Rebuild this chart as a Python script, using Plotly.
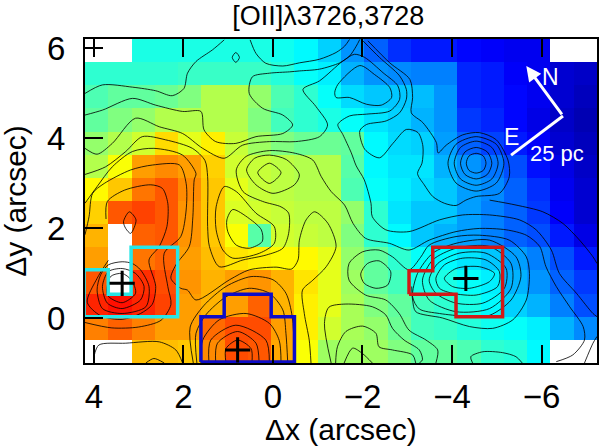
import plotly.graph_objects as go

N = None
row_00 = [N, N, .40, .40, .40, .40, .40, .40, .39, .37, .33, .27, .22, .17, .15, .15, .13, .12, .11, .11, N, N]
row_01 = [.42, .42, .42, .42, .43, .43, .43, .43, .41, .38, .36, .30, .27, .26, .25, .25, .16, .15, .12, .11, .08, .07]
row_02 = [.45, .47, .47, .48, .50, .55, .55, .52, .45, .42, .38, .34, .32, .32, .31, .27, .16, .15, .13, .11, .08, .06]
row_03 = [.47, .50, .52, .55, .55, .55, .55, .50, .44, .42, .40, .38, .35, .33, .30, .27, .18, .16, .13, .10, .07, .05]
row_04 = [.52, .55, .58, .66, .60, .64, .57, .53, .50, .48, .48, .47, .37, .34, .33, .28, .22, .19, .15, .12, .08, .06]
row_05 = [.55, .62, .72, .74, .72, .67, .58, .57, .56, .55, .55, .46, .37, .35, .35, .30, .27, .24, .20, .14, .10, .07]
row_06 = [.63, .68, .76, .79, .74, .68, .60, .57, .56, .55, .55, .45, .38, .36, .34, .32, .28, .26, .22, .17, .11, .08]
row_07 = [.67, .79, .81, .79, .73, .68, .59, .58, .57, .56, .56, .52, .42, .35, .32, .32, .28, .25, .22, .18, .12, .08]
row_08 = [.70, N, .78, .79, .73, .68, .62, .46, .58, .57, .56, .50, .42, .37, .32, .30, .28, .25, .22, .20, .15, .10]
row_09 = [.72, N, .76, .78, .72, .69, .65, .64, .63, .63, .60, .52, .47, .42, .38, .37, .35, .32, .28, .25, .20, .15]
row_10 = [.79, N, .83, .80, .73, .70, .72, .73, .70, .65, .60, .53, .47, .44, .40, .40, .38, .36, .30, .27, .22, .18]
row_11 = [.84, .86, .84, .81, .72, .70, .72, .78, .70, .64, .60, .54, .50, .47, .44, .42, .40, .37, .33, .30, .25, .20]
row_12 = [.75, .78, .75, .72, .72, .77, .80, .80, .72, .64, .58, .54, .52, .48, .44, .43, .41, .39, .38, .36, .30, .26]
row_13 = [N, N, .69, .69, .68, .74, .80, .79, .71, .62, .53, .53, .53, .50, .47, .47, .45, .42, .41, .37, N, N]
flux_rows = [row_00, row_01, row_02, row_03, row_04, row_05, row_06, row_07,
             row_08, row_09, row_10, row_11, row_12, row_13]

# contour lines as (dx, dy) in arcsec
c01 = [(4.2,4.99),(3.81,5.18),(3.14,5.13),(2.62,5.05),(2.25,4.94),(1.99,5.10),(1.91,5.44),(1.72,5.70),(1.35,5.96),(1.09,6.18)]
c02 = [(.91,5.79),(.83,5.9),(.75,5.79),(.83,5.68),(.91,5.79)]
c03 = [(.51,6.18),(.38,5.88),(.16,5.66),(-.22,5.6),(-.59,5.67),(-1.04,5.75),(-1.41,5.9),(-1.6,6.04),(-1.71,6.19)]
c04 = [(4.2,4.51),(3.81,4.62),(3.14,4.88),(2.62,4.73),(2.02,4.59),(1.61,4.59),(1.54,4.18),(1.28,3.92),(.83,3.88),(.38,4.03),(-.22,4.10),(-.44,4.29),(-.22,4.51),(.23,4.66),(.53,4.99),(.46,5.36),(.08,5.44),(-.37,5.47),(-.59,5.49),(-1.04,5.53),(-1.49,5.67),(-1.71,5.82),(-1.86,6.04),(-1.94,6.19)]
c05 = [(4.2,3.77),(3.93,3.64),(3.59,3.88),(3.07,4.44),(2.54,4.25),(2.02,4.10),(1.57,3.77),(1.09,3.55),(.68,3.84),(.08,3.92),(-.51,3.92),(-1.04,4.03),(-1.22,4.29),(-.96,4.70),(-.67,5.08),(-1.04,5.27),(-1.56,5.71),(-1.82,5.86),(-2.05,5.79),(-2.46,5.45),(-2.79,5.16),(-2.83,4.86),(-2.61,4.6),(-2.09,4.53),(-1.71,4.49),(-1.45,4.30),(-1.56,4.08),(-1.75,3.67),(-1.86,3.38),(-2.04,3.07),(-2.19,2.55),(-2.22,2.25),(-2.52,1.96),(-3.04,1.92),(-3.72,2.18),(-4.24,2.29),(-4.84,2.29),(-5.51,2.18),(-5.88,1.96),(-6.22,1.51),(-6.40,.99),(-6.78,.55),(-7.15,.10),(-7.24,.03)]
c06 = [(-1.38,5.01),(-1.45,5.19),(-1.94,5.61),(-2.27,5.41),(-2.61,5.12),(-2.65,4.90),(-2.42,4.73),(-2.09,4.75),(-1.71,4.90),(-1.41,4.90),(-1.38,5.01)]
c07 = [(-2.01,6.16),(-2.38,5.79),(-2.83,5.38),(-2.98,5.08),(-2.98,4.86),(-2.83,4.56),(-2.53,4.38),(-2.09,4.30),(-1.94,4.16),(-2.05,3.75),(-2.38,3.56),(-2.68,3.88),(-2.98,4.19),(-3.24,4.12),(-3.35,3.82),(-3.33,3.44),(-3.23,3.21),(-3.38,2.96),(-3.57,2.70),(-3.83,2.55),(-4.09,2.50),(-4.31,2.62),(-4.54,2.70),(-5.06,2.77),(-5.28,3.14),(-5.25,3.51),(-4.99,3.96),(-4.61,4.12),(-4.24,4.07),(-3.87,3.84),(-3.69,3.67),(-3.65,3.90),(-3.35,4.34),(-3.09,4.56),(-3.12,4.9),(-3.06,5.30),(-2.61,5.67),(-2.12,6.16)]
c08 = [(-4.32,3.44),(-4.38,3.6),(-4.54,3.66),(-4.7,3.6),(-4.76,3.44),(-4.7,3.28),(-4.54,3.22),(-4.38,3.28),(-4.32,3.44)]
c09 = [(-4.19,3.44),(-4.29,3.69),(-4.54,3.79),(-4.79,3.69),(-4.89,3.44),(-4.79,3.19),(-4.54,3.09),(-4.29,3.19),(-4.19,3.44)]
c10 = [(-4.05,3.44),(-4.19,3.79),(-4.54,3.93),(-4.89,3.79),(-5.03,3.44),(-4.89,3.09),(-4.54,2.95),(-4.19,3.09),(-4.05,3.44)]
c11 = [(-3.91,3.44),(-4.09,3.86),(-4.54,4.03),(-4.99,3.86),(-5.16,3.44),(-4.99,3.0),(-4.54,2.82),(-4.09,3.0),(-3.91,3.44)]
c12 = [(-4.84,2.62),(-5.43,2.51),(-6.03,2.36),(-6.48,2.10),(-6.85,1.73),(-7.15,1.36),(-7.24,1.21)]
c13 = [(4.2,3.19),(3.74,3.36),(3.29,3.70),(2.92,4.03),(2.40,3.96),(1.80,3.77),(1.52,3.5),(1.46,3.14),(1.46,2.03),(1.42,1.59),(1.2,1.14),(.67,1.29),(.15,1.40),(-.22,1.55),(-.35,1.88),(-.35,2.33),(-.18,2.47),(.23,2.59),(.67,2.81),(.82,3.29),(.6,3.59),(.08,3.72),(-.5,3.66),(-.89,3.51),(-1.08,3.14),(-1.30,2.81),(-1.6,2.51),(-1.79,2.10),(-2.07,1.77),(-2.6,1.66),(-3.04,1.51),(-3.49,1.73),(-4.09,1.92),(-4.61,1.99),(-5.21,1.96),(-5.66,1.84),(-5.96,1.59),(-6.1,1.14),(-6.33,.70),(-6.63,.25),(-6.93,-.19),(-6.96,-.49),(-6.70,-.82),(-6.33,-.97)]
c14 = [(1.27,2.47),(1.09,2.92),(.82,2.81),(.38,2.33),(-.03,2.03),(-.03,1.66),(.3,1.44),(.9,1.33),(1.12,1.51),(1.27,1.96),(1.27,2.47)]
c15 = [(1.03,2.18),(.9,2.41),(.53,2.21),(.26,1.96),(.24,1.70),(.53,1.55),(.82,1.62),(1.01,1.92),(1.03,2.18)]
c16 = [(.34,3.23),(.08,3.44),(-.18,3.23),(.08,2.99),(.34,3.23)]
c17 = [(.59,3.29),(.41,3.55),(.08,3.62),(-.3,3.52),(-.59,3.18),(-.48,2.96),(0,2.77),(.38,2.96),(.59,3.29)]
c18 = [(-.85,-1.0),(-.81,-.49),(-.70,.10),(-.66,.62),(-.89,.84),(-1.19,1.14),(-1.41,1.59),(-1.23,2.10),(-.93,2.36),(-.74,2.18),(-.59,1.73),(-.56,1.29),(-.42,1.09),(-.07,1.13),(.53,1.07),(.97,.85),(1.72,.40),(1.91,.62),(2.06,.66),(2.28,.88),(2.17,1.18),(1.87,1.59),(1.79,2.25),(1.76,3.07),(1.72,3.21),(2.02,3.62),(2.66,3.77),(3.14,3.70),(3.59,3.36),(3.93,2.92),(4.2,2.55)]
c19 = [(4.2,1.85),(4.11,2.25),(4.03,2.77),(3.77,2.99),(3.18,3.29),(2.69,3.40),(2.09,3.40),(1.94,2.99),(1.94,2.40),(2.06,1.81),(2.43,1.44),(2.35,.7),(2.28,.3),(2.5,-.05),(3.0,-.2),(3.6,-.22),(4.2,-.1)]
c20 = [(3.73,2.2),(3.70,2.59),(3.32,2.84),(2.73,2.96),(2.47,2.88),(2.35,2.55),(2.37,2.03),(2.54,1.59),(2.77,1.29),(2.62,.7),(2.7,.3),(2.96,.1),(3.37,-.03),(3.85,.05),(4.15,.35),(3.93,.88),(3.68,1.28)]
c21 = [(3.34,2.14),(3.21,2.36),(3.06,2.18),(3.18,1.88),(3.29,1.99),(3.34,2.14)]
c22 = [(3.63,.92),(3.37,.99),(3.16,.84),(3.07,.55),(3.37,.34),(3.70,.51),(3.63,.92)]
c23 = [(3.81,.7),(3.70,.33),(3.37,.21),(2.96,.4),(2.88,.7),(3.07,.99),(3.37,1.10),(3.68,1.03),(3.81,.7)]
c24 = [(3.93,.62),(3.81,.21),(3.37,.10),(2.84,.25),(2.77,.7),(2.96,1.07),(3.14,1.21),(3.37,1.25),(3.68,1.18),(3.85,.96),(3.93,.62)]
c25 = [(4.0,-.86),(3.89,-.6),(3.29,-.56),(2.54,-.53),(2.17,-.71),(2.02,-1.0)]
c26 = [(2.84,-1),(2.66,-.9),(2.43,-1)]
c27 = [(1.05,-1.0),(1.05,-.68),(.79,-.49),(.49,-.68),(.47,-1.0)]
c28 = [(1.28,-1),(1.24,-.56),(.79,-.3),(.38,-.56),(.31,-1)]
c29 = [(1.43,-1),(1.39,-.49),(.83,-.16),(.16,-.49),(.08,-1)]
c30 = [(1.61,-1),(1.57,-.49),(1.2,-.04),(.6,.1),(.08,-.12),(-.14,-.5),(-.18,-1)]
c31 = [(1.7,-1),(1.72,-.34),(1.5,.07),(1.05,.47),(.53,.66),(.08,.55),(-.22,.18),(-.29,-.34),(-.33,-1)]
c32 = [(1.78,-1),(1.85,-.2),(1.55,.27),(1.05,.70),(.49,.92),(0,.85),(-.29,.55),(-.43,.03),(-.48,-1)]
c33 = [(-1.3,-1),(-1.15,-.12),(-1.25,.24),(-1.63,.31),(-2.22,.25),(-2.52,.07),(-2.67,-.23),(-2.93,-.49),(-3.27,-.71),(-3.34,-.93),(-3.27,-1.0)]
c34 = [(-1.4,-1),(-1.44,-.64),(-1.63,-.3),(-2.0,-.18),(-2.3,-.34),(-2.37,-.64),(-2.67,-.71),(-3.12,-.82),(-3.19,-1)]
c35 = [(-1.59,-1),(-1.78,-.67),(-2.0,-.79),(-2.22,-1)]
c36 = [(-4.46,-1),(-4.42,-.86),(-4.69,-.75),(-5.13,-.77),(-5.43,-.86),(-5.57,-1)]
c37 = [(-6.96,-1),(-7.15,-.56),(-7.24,-.41)]
c38 = [(-1.96,.98),(-2.11,1.21),(-2.37,1.27),(-2.63,1.03),(-2.56,.73),(-2.3,.66),(-2.04,.77),(-1.96,.98)]
c39 = [(-3.64,-1),(-3.68,-.71),(-3.42,-.49),(-3.04,-.27),(-2.82,.1),(-2.52,.4),(-2.07,.51),(-1.70,.84),(-1.70,1.21),(-2.0,1.47),(-2.37,1.51),(-2.67,1.36),(-3.04,1.07),(-3.3,1.35),(-3.49,1.62),(-4.09,1.81),(-4.61,1.84),(-5.28,1.73),(-5.66,1.36),(-5.73,.99),(-5.66,.4),(-5.36,-.04),(-4.91,-.23),(-4.39,-.19),(-3.79,0),(-3.19,.14),(-3.12,.4),(-3.1,.7)]
c40 = [(-3.83,.88),(-4.09,1.10),(-4.61,1.14),(-4.95,.99),(-4.84,.81),(-4.39,.66),(-4.01,.70),(-3.83,.88)]
c41 = [(-3.64,.88),(-3.83,1.18),(-4.24,1.33),(-4.76,1.29),(-5.06,1.03),(-5.02,.70),(-4.54,.51),(-4.01,.55),(-3.72,.66),(-3.64,.88)]
c42 = [(-3.49,.84),(-3.68,1.21),(-4.16,1.44),(-4.76,1.44),(-5.21,1.10),(-5.17,.66),(-4.69,.33),(-4.09,.33),(-3.64,.55),(-3.49,.84)]
c43 = [(-3.34,.84),(-3.57,1.29),(-4.09,1.55),(-4.84,1.59),(-5.32,1.21),(-5.32,.66),(-4.84,.21),(-4.09,.14),(-3.49,.4),(-3.34,.84)]
c44 = [(-3.12,.47),(-3.23,.99),(-3.57,1.44),(-4.09,1.66),(-4.84,1.73),(-5.43,1.36),(-5.54,.92),(-5.32,.4),(-4.84,.06),(-4.31,.04),(-3.72,.1),(-3.27,.2),(-3.12,.47)]
contour_lines = [c01,c02,c03,c04,c05,c06,c07,c08,c09,c10,c11,c12,c13,c14,c15,c16,c17,c18,c19,c20,c21,c22,
                 c23,c24,c25,c26,c27,c28,c29,c30,c31,c32,c33,c34,c35,c36,c37,c38,c39,c40,c41,c42,c43,c44]

cyan_x = [4.22, 3.68, 3.68, 3.17, 3.17, 2.13, 2.13, 4.22, 4.22]
cyan_y = [1.07, 1.07, .53, .53, 1.57, 1.57, .03, .03, 1.07]
blue_x = [1.61, 1.61, 1.09, 1.09, .04, .04, -.48, -.48, 1.61]
blue_y = [-.98, .03, .03, .53, .53, .03, .03, -.98, -.98]
red_x = [-3.04, -3.04, -3.57, -3.57, -5.13, -5.13, -4.09, -4.09, -3.04]
red_y = [.53, 1.05, 1.05, 1.57, 1.57, .03, .03, .53, .53]

peak_x = [3.37, .79, -4.31]
peak_y = [.77, -.71, .88]

x_ticks = [4, 2, 0, -2, -4, -6]
x_ticklabels = ["4", "2", "0", "\u22122", "\u22124", "\u22126"]
y_ticks = [0, 2, 4, 6]

jet = [[0, "rgb(0,0,128)"], [.125, "rgb(0,0,255)"], [.375, "rgb(0,255,255)"],
       [.625, "rgb(255,255,0)"], [.875, "rgb(255,0,0)"], [1, "rgb(128,0,0)"]]

FONT = "Liberation Sans, Arial, sans-serif"
fig = go.Figure()
fig.add_trace(go.Heatmap(z=flux_rows, x0=4.2 - 11.44 / 22 / 2, dx=-11.44 / 22,
                         y0=6.2 - 7.2 / 14 / 2, dy=-7.2 / 14,
                         colorscale=jet, zmin=0, zmax=1, showscale=False, hoverongaps=False))
for line in contour_lines:
    fig.add_trace(go.Scatter(x=[p[0] for p in line], y=[p[1] for p in line], mode="lines",
                             line=dict(color="rgba(0,0,0,0.9)", width=0.9, shape="spline", smoothing=0.8),
                             showlegend=False))
for xs, ys, col in [(cyan_x, cyan_y, "#28e6e6"), (blue_x, blue_y, "#0c0cc8"), (red_x, red_y, "#d21818")]:
    fig.add_trace(go.Scatter(x=xs, y=ys, mode="lines", line=dict(color=col, width=3.5), showlegend=False))
fig.add_trace(go.Scatter(x=peak_x, y=peak_y, mode="markers", showlegend=False,
                         marker=dict(symbol="cross-thin", size=18, line=dict(color="black", width=3))))

# orientation compass
fig.add_trace(go.Scatter(x=[-5.32, -6.48], y=[3.62, 4.49], mode="lines", showlegend=False,
                         line=dict(color="white", width=3)))
fig.add_annotation(x=-5.66, y=5.6, ax=-6.48, ay=4.49, xref="x", yref="y", axref="x", ayref="y", text="",
                   showarrow=True, arrowhead=2, arrowsize=1, arrowwidth=3, arrowcolor="white")
for tx, ty, s, size in [(-6.19, 5.36, "N", 23), (-5.33, 4.02, "E", 23), (-6.35, 3.66, "25 pc", 22)]:
    fig.add_annotation(x=tx, y=ty, text=s, showarrow=False, font=dict(family=FONT, size=size, color="white"))

fig.add_annotation(x=0.5, xref="x domain", y=-0.205, yref="y domain", yanchor="middle", xanchor="center",
                   text="\u0394x (arcsec)", showarrow=False, font=dict(family=FONT, size=30, color="black"))
fig.add_annotation(x=-0.137, xref="x domain", y=0.5, yref="y domain", yanchor="middle", xanchor="center",
                   textangle=-90, text="\u0394y (arcsec)", showarrow=False,
                   font=dict(family=FONT, size=30, color="black"))

axis = dict(ticks="inside", ticklen=18, tickwidth=2.2, tickcolor="black", linecolor="black", linewidth=2.2,
            showgrid=False, zeroline=False, automargin=False,
            tickfont=dict(family=FONT, size=33, color="black"))
fig.update_xaxes(range=[4.2, -7.24], tickvals=x_ticks, ticktext=x_ticklabels, tickmode="array", mirror="ticks",
                 ticklabelstandoff=3, **axis)
fig.update_yaxes(range=[-1, 6.2], tickvals=y_ticks, tickmode="array", mirror=True, ticklabelstandoff=11, **axis)
fig.update_layout(width=600, height=446, margin=dict(l=85, r=3, t=39, b=83), plot_bgcolor="white",
                  paper_bgcolor="white", showlegend=False,
                  title=dict(text="[OII]\u03bb3726,3728", x=0.547, xanchor="center", y=0.966, yanchor="middle",
                             font=dict(family=FONT, size=27, color="black")))
fig.write_html("out.html", config=dict(displayModeBar=False),
               post_script="document.body.style.margin='0';document.documentElement.style.overflow='hidden';")
